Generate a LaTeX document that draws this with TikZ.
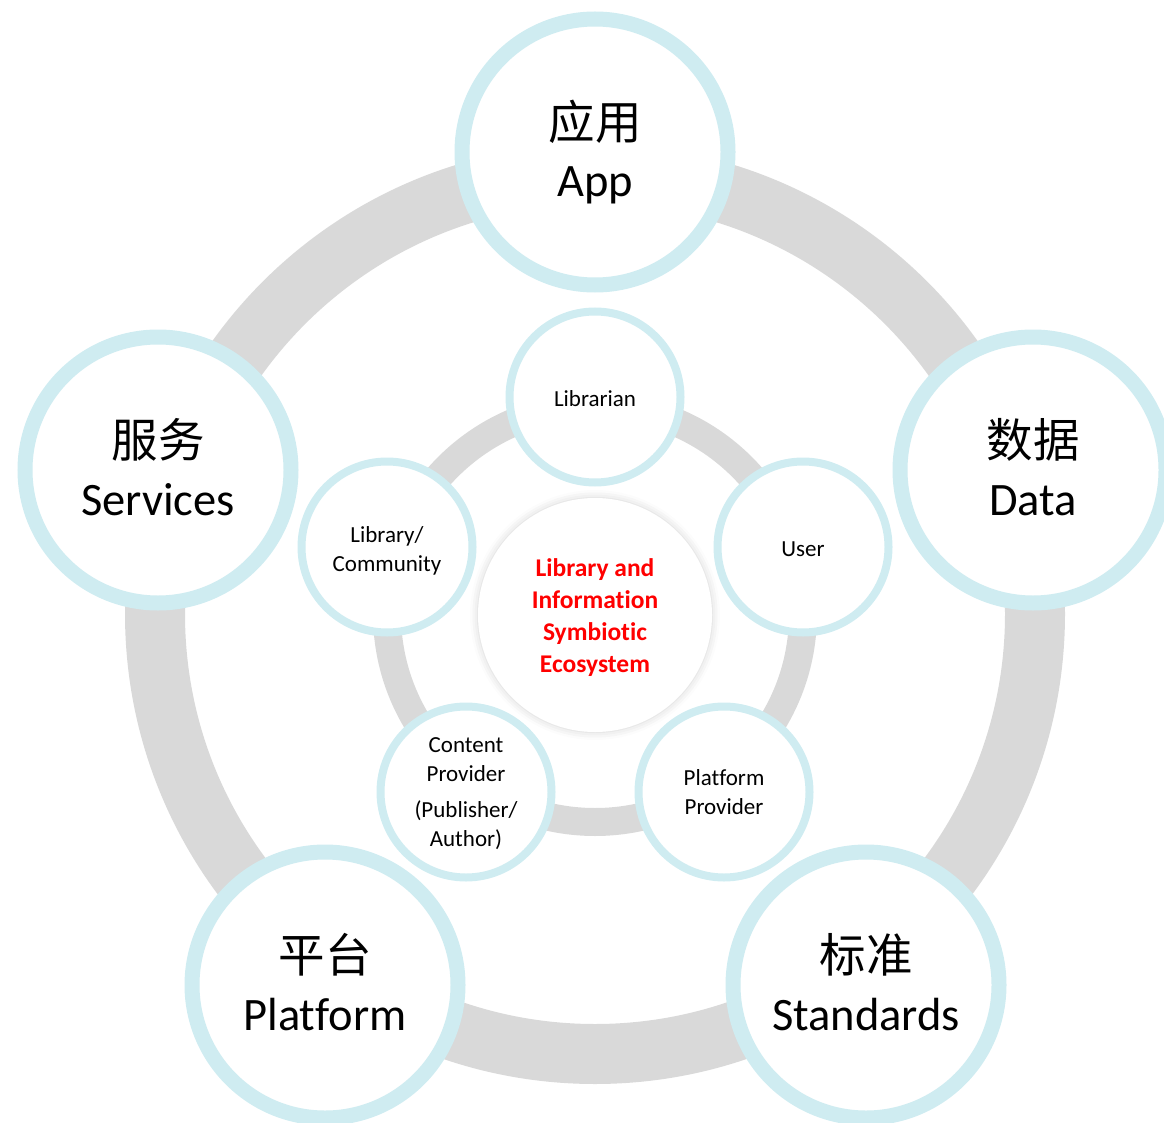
\documentclass[tikz,border=0pt]{standalone}
\usepackage{fontspec}
\setmainfont[Ligatures=NoCommon]{Carlito}
\newfontfamily\cjk{Noto Sans CJK SC}
\usetikzlibrary{shadows.blur}
\definecolor{ringgray}{RGB}{217,217,217}
\definecolor{rimblue}{RGB}{207,236,241}
\newcommand{\pair}[2]{\begin{tabular}[b]{@{}c@{}}{\cjk #1}\\#2\end{tabular}}
\newcommand{\rows}[1]{\begin{tabular}[b]{@{}c@{}}#1\end{tabular}}
\begin{document}
\begin{tikzpicture}[x=1pt, y=-1pt,
    ring/.style={draw=ringgray},
    outer/.style={circle, draw=rimblue, line width=15pt, fill=white,
      minimum size=266pt, inner sep=0pt, text height=90pt, text depth=0pt,
      font=\fontsize{46.5}{57.5}\selectfont},
    role/.style={circle, draw=rimblue, line width=8pt, fill=white,
      minimum size=171pt, inner sep=0pt, text depth=0pt,
      font=\fontsize{23}{29}\selectfont},
    core/.style={circle, fill=white, minimum size=234pt, inner sep=0pt,
      text height=115pt, text depth=0pt, text=red,
      font=\fontsize{25.5}{32}\selectfont\bfseries,
      blur shadow={shadow xshift=0pt, shadow yshift=0pt,
        shadow blur radius=8pt, shadow opacity=18}}]
      \useasboundingbox (0,0) rectangle (1164,1123);
      \clip (0,0) rectangle (1164,1123);
      %
      \draw[ring, line width=60pt] (595,614) circle[radius=440pt];
      \draw[ring, line width=28pt] (595,614) circle[radius=208pt];
      %
      \node[outer] (app) at (595,152) {\pair{应用}{App}};
      \node[outer] (data) at (1033,470) {\pair{数据}{Data}};
      \node[outer] (standards) at (866,985) {\pair{标准}{Standards}};
      \node[outer] (platform) at (325,985) {\pair{平台}{Platform}};
      \node[outer] (services) at (158,470) {\pair{服务}{Services}};
      %
      \node[core] (ecosystem) at (595,615) {\rows{Library and\\Information\\Symbiotic\\Ecosystem}};
      %
      \node[role, text height=18pt] (librarian) at (595,397) {\rows{Librarian}};
      \node[role, text height=18pt] (user) at (803,547) {\rows{User}};
      \node[role, text height=44pt] (pprovider) at (724,792) {\rows{Platform\\Provider}};
      \node[role, text height=108pt] (cprovider) at (466,792) {\rows{Content\\Provider\\[6.5pt](Publisher/\\Author)}};
      \node[role, text height=48pt] (community) at (387,547) {\rows{Library/\\Community}};
      %
    \end{tikzpicture}
\end{document}
